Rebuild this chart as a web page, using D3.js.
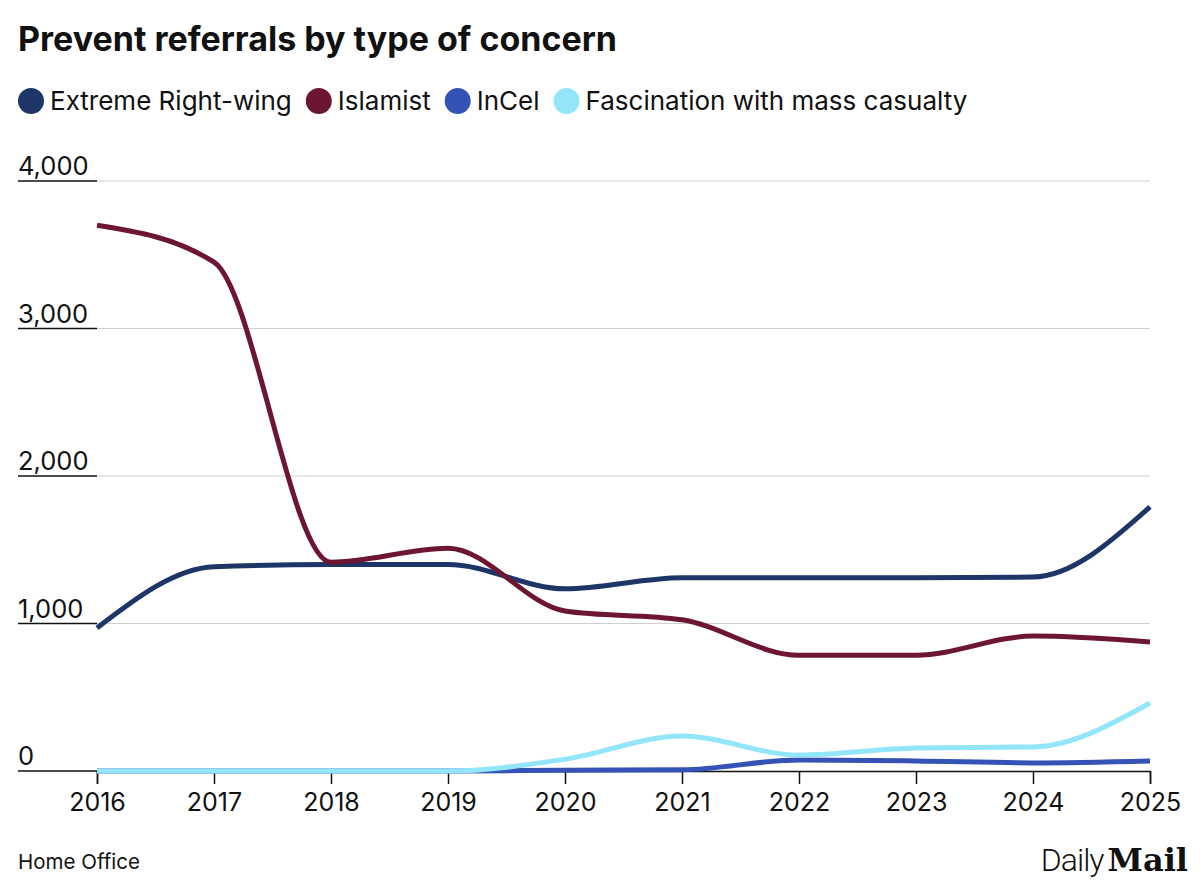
<!DOCTYPE html>
<html>
<head>
<meta charset="utf-8">
<script src="https://cdn.jsdelivr.net/npm/d3@7"></script>
<style>
  body { margin: 0; background: #fff; }
  svg { font-family: Inter, "Noto Sans", sans-serif; }
</style>
</head>
<body>
<script>
// data
var years = [2016, 2017, 2018, 2019, 2020, 2021, 2022, 2023, 2024, 2025];
var rightWing = [970, 1385, 1400, 1400, 1235, 1310, 1310, 1310, 1315, 1790];
var islamist = [3700, 3450, 1415, 1510, 1085, 1025, 785, 785, 915, 875];
var incel = [0, 0, 0, 0, 5, 8, 75, 68, 55, 68];
var massCasualty = [0, 0, 0, 0, 80, 237, 108, 156, 163, 461];
var yTicks = [0, 1000, 2000, 3000, 4000];

var series = [
  {name: 'Extreme Right-wing', values: rightWing, color: '#1e3667'},
  {name: 'Islamist', values: islamist, color: '#6c1631'},
  {name: 'InCel', values: incel, color: '#3553b6'},
  {name: 'Fascination with mass casualty', values: massCasualty, color: '#93e5fa'}
];

var scr = {w: 1200, h: 890};
var margins = {left: 97, right: 50, top: 181, bottom: 119};

var svg = d3.select('body')
            .append('svg')
            .attr('width', scr.w)
            .attr('height', scr.h);

var xScale = d3.scaleLinear()
               .domain([2016, 2025])
               .range([margins.left, scr.w - margins.right]);

var yScale = d3.scaleLinear()
               .domain([0, 4000])
               .range([scr.h - margins.bottom, margins.top]);

// title
svg.append('text')
   .attr('x', 18)
   .attr('y', 51)
   .attr('font-size', 34)
   .attr('font-weight', 700)
   .attr('fill', '#111')
   .text('Prevent referrals by type of concern');

// legend, laid out from the text widths
var legend = svg.selectAll('g.legend')
                .data(series)
                .enter()
                .append('g')
                .classed('legend', true);
legend.append('circle')
      .attr('cx', 13)
      .attr('cy', 0)
      .attr('r', 13)
      .attr('fill', function(d){ return d.color; });
legend.append('text')
      .attr('x', 32)
      .attr('y', 9)
      .attr('font-size', 26)
      .attr('fill', '#111')
      .text(function(d){ return d.name; });
var lx = 18;
legend.each(function(){
  var g = d3.select(this);
  g.attr('transform', 'translate(' + lx + ',101)');
  lx += 32 + g.select('text').node().getComputedTextLength() + 14;
});

// gridlines and y labels
var grid = svg.append('g').classed('grid', true);
grid.selectAll('line.g')
    .data(yTicks.filter(function(d){ return d > 0; }))
    .enter()
    .append('line')
    .attr('x1', margins.left)
    .attr('x2', scr.w - margins.right)
    .attr('y1', function(d){ return yScale(d); })
    .attr('y2', function(d){ return yScale(d); })
    .attr('stroke', '#cfcfcf')
    .attr('stroke-width', 1.2);
grid.selectAll('line.u')
    .data(yTicks)
    .enter()
    .append('line')
    .attr('x1', 18)
    .attr('x2', margins.left)
    .attr('y1', function(d){ return yScale(d); })
    .attr('y2', function(d){ return yScale(d); })
    .attr('stroke', '#111')
    .attr('stroke-width', 1.5);
grid.selectAll('text')
    .data(yTicks)
    .enter()
    .append('text')
    .attr('x', 18)
    .attr('y', function(d){ return yScale(d) - 6; })
    .attr('font-size', 25.5)
    .attr('fill', '#111')
    .text(d3.format(','));

// x axis
var xAxis = d3.axisBottom(xScale)
              .tickValues(years)
              .tickFormat(d3.format('d'))
              .tickSize(13)
              .tickPadding(9);
var xg = svg.append('g')
   .attr('transform', 'translate(0,' + yScale(0) + ')')
   .call(xAxis);
xg.select('.domain').attr('stroke', '#111').attr('stroke-width', 1.5);
xg.selectAll('.tick line').attr('stroke', '#111').attr('stroke-width', 1.5);
xg.selectAll('.tick text').attr('font-size', 25).attr('fill', '#111').attr('font-family', 'Inter, sans-serif');

// lines
var line = d3.line()
             .x(function(d, i){ return xScale(years[i]); })
             .y(function(d){ return yScale(d); })
             .curve(d3.curveMonotoneX);
svg.append('g')
   .selectAll('path')
   .data(series)
   .enter()
   .append('path')
   .attr('d', function(d){ return line(d.values); })
   .attr('fill', 'none')
   .attr('stroke', function(d){ return d.color; })
   .attr('stroke-width', 5)
   .attr('stroke-linecap', 'butt');

// footer
svg.append('text')
   .attr('x', 18)
   .attr('y', 869)
   .attr('font-size', 20.5)
   .attr('fill', '#111')
   .text('Home Office');

var logo = svg.append('text')
   .attr('x', 1188)
   .attr('y', 871)
   .attr('text-anchor', 'end')
   .attr('fill', '#111');
logo.append('tspan')
    .attr('font-size', 32)
    .attr('font-weight', 300)
    .attr('font-family', 'Roboto, sans-serif')
    .attr('letter-spacing', -1)
    .text('Daily');
logo.append('tspan')
    .attr('dx', 4)
    .attr('font-size', 32)
    .attr('font-weight', 700)
    .attr('font-family', '"DejaVu Serif", serif')
    .text('Mail');
</script>
</body>
</html>
